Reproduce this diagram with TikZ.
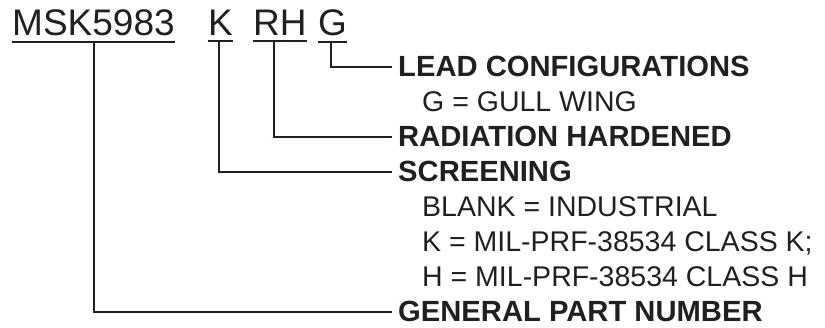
\documentclass[tikz,border=0pt]{standalone}
\usepackage{fontspec}
\setmainfont{Liberation Sans}
\usetikzlibrary{calc}
\definecolor{ink}{HTML}{231F20}
\begin{document}
\begin{tikzpicture}[x=1pt,y=-1pt,
  part/.style={anchor=base west,inner sep=0pt,text=ink,font=\fontsize{37}{37}\selectfont},
  head/.style={anchor=base west,inner xsep=6pt,inner ysep=0pt,text=ink,font=\fontsize{29.2}{29.2}\selectfont\bfseries},
  item/.style={anchor=base west,inner sep=0pt,text=ink,font=\fontsize{28.5}{28.5}\selectfont},
  conn/.style={draw=ink,line width=2pt},
  uline/.style={draw=ink,line width=2pt}]
\useasboundingbox (0,0) rectangle (825,328);
% part number fields
\node[part] (msk) at (12,36) {MSK5983};
\node[part] (k) at (208,36) {K};
\node[part] (rh) at (253,36) {RH};
\node[part] (g) at (318,36) {G};
\foreach \n in {msk,k,rh,g}{
  \draw[uline] ([yshift=-5pt]\n.south west) -- ([yshift=-5pt]\n.south east);
}
% tap points on underlines
\coordinate (tm) at (94,41);
\coordinate (tk) at (219,41);
\coordinate (trh) at (274,41);
\coordinate (tg) at (331,41);
% labels
\node[head] (lead) at (392,77) {LEAD CONFIGURATIONS};
\node[item] (gull) at (422,112) {G = GULL WING};
\node[head] (rad) at (392,147) {RADIATION HARDENED};
\node[head] (scr) at (392,182) {SCREENING};
\node[item] (blank) at (422,217) {BLANK = INDUSTRIAL};
\node[item] (clk) at (422,252) {K = MIL-PRF-38534 CLASS K;};
\node[item] (clh) at (422,287) {H = MIL-PRF-38534 CLASS H};
\node[head] (gen) at (392,322) {GENERAL PART NUMBER};
% connectors
\draw[conn] (tg) |- (lead.west);
\draw[conn] (trh) |- (rad.west);
\draw[conn] (tk) |- (scr.west);
\draw[conn] (tm) |- (gen.west);
\end{tikzpicture}
\end{document}
